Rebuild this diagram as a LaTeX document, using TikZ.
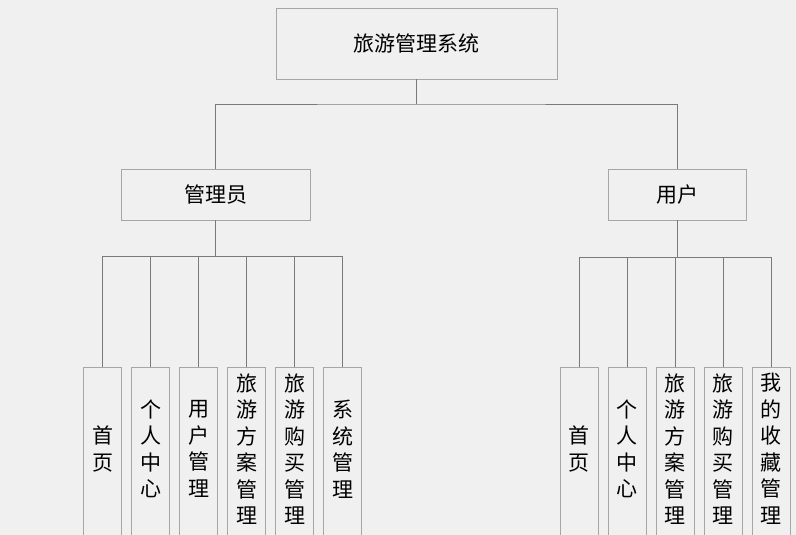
\documentclass[tikz,border=0pt]{standalone}
\usepackage{fontspec}
\setmainfont{Noto Sans CJK SC}
\usepackage{xcolor}
\definecolor{bgcol}{HTML}{F0F0F0}
\definecolor{boxline}{HTML}{A6A6A6}
\definecolor{linkcol}{HTML}{7A7A7A}
\tikzset{
  box/.style={draw=boxline,fill=bgcol,line width=0.8pt,inner sep=0pt,
    font=\fontsize{21}{26.5}\selectfont},
  link/.style={draw=linkcol,line width=0.8pt},
  leaf/.style={box,minimum width=38pt,minimum height=180pt,anchor=north},
  leaftext/.style={font=\fontsize{21}{26.5}\selectfont,align=center,inner sep=0pt}
}
\begin{document}
\begin{tikzpicture}[x=1pt,y=-1pt]
    \fill[bgcol] (0,0) rectangle (796,535);
    \useasboundingbox (0,0) rectangle (796,535);
    % top levels
    \node[box,minimum width=281pt,minimum height=71pt] (sys) at (416.5,43.5) {旅游管理系统};
    \node[box,minimum width=189pt,minimum height=51pt] (admin) at (215.5,194.5) {管理员};
    \node[box,minimum width=138pt,minimum height=51pt] (user) at (677,194.5) {用户};
    \coordinate (top) at (416.5,104);
    \draw[link] (sys.south) -- (top);
    \draw[link] (admin.north) |- (top) -| (user.north);
    % admin modules
    \coordinate (abus) at (215.5,256);
    \draw[link] (admin.south) -- (abus);
    \foreach \i/\txt in {0/{首\\页},1/{个\\人\\中\\心},2/{用\\户\\管\\理},
        3/{旅\\游\\方\\案\\管\\理},4/{旅\\游\\购\\买\\管\\理},5/{系\\统\\管\\理}}{
        \node[leaf] (a\i) at (102.7+48*\i,367) {};
        \node[leaftext] (ta\i) at (102.7+48*\i,449) {\txt};
        \draw[link] (abus) -| (a\i.north);
    }
    % user modules
    \coordinate (ubus) at (677,257);
    \draw[link] (user.south) -- (ubus);
    \foreach \i/\txt in {0/{首\\页},1/{个\\人\\中\\心},2/{旅\\游\\方\\案\\管\\理},
        3/{旅\\游\\购\\买\\管\\理},4/{我\\的\\收\\藏\\管\\理}}{
        \node[leaf] (u\i) at (579.3+48*\i,367) {};
        \node[leaftext] (tu\i) at (579.3+48*\i,449) {\txt};
        \draw[link] (ubus) -| (u\i.north);
    }
\end{tikzpicture}
\end{document}
